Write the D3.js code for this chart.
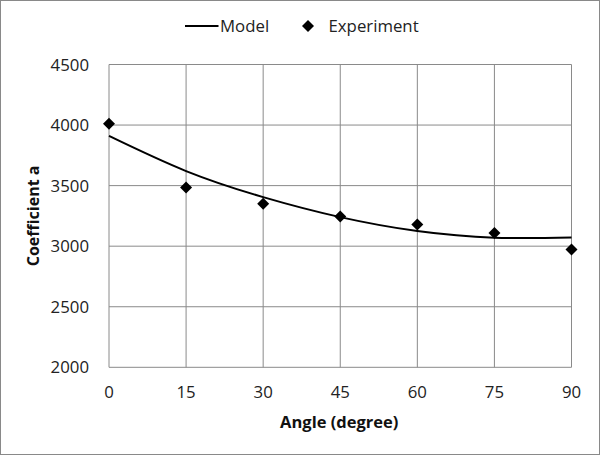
<!DOCTYPE html>
<html>
<head>
<meta charset="utf-8">
<script src="https://cdn.jsdelivr.net/npm/d3@7"></script>
<style>
  body { margin: 0; background: #fff; }
  text { font-family: "Open Sans", "Liberation Sans", sans-serif; }
</style>
</head>
<body>
<script>
// angles on the x axis
var angles = [0, 15, 30, 45, 60, 75, 90];
// measured coefficient a
var experiment = [4010, 3485, 3350, 3245, 3180, 3108, 2973];
// fitted model, read at each angle
var model = [3910, 3620, 3405, 3240, 3125, 3070, 3072];
var yTicks = [2000, 2500, 3000, 3500, 4000, 4500];

var width = 601, height = 456;
var plotLeft = 109, plotRight = 571.5, plotTop = 64.5, plotBottom = 367.3;

var svg = d3.select("body").append("svg")
            .attr("width", width)
            .attr("height", height);

// outer frame
svg.append("rect")
   .attr("x", 0.5).attr("y", 0.5)
   .attr("width", 599).attr("height", 454)
   .attr("fill", "#fff")
   .attr("stroke", "#898989");

var x = d3.scaleLinear().domain([0, 90]).range([plotLeft, plotRight]);
var y = d3.scaleLinear().domain([2000, 4500]).range([plotBottom, plotTop]);

// gridlines
svg.append("g")
   .selectAll("line")
   .data(yTicks)
   .enter()
   .append("line")
   .attr("x1", plotLeft).attr("x2", plotRight)
   .attr("y1", function (d) { return y(d); })
   .attr("y2", function (d) { return y(d); })
   .attr("stroke", "#8a8a8a")
   .attr("stroke-width", 1);

svg.append("g")
   .selectAll("line")
   .data(angles)
   .enter()
   .append("line")
   .attr("y1", plotTop).attr("y2", plotBottom)
   .attr("x1", function (d) { return x(d); })
   .attr("x2", function (d) { return x(d); })
   .attr("stroke", "#8a8a8a")
   .attr("stroke-width", 1);

// tick labels
svg.append("g")
   .selectAll("text")
   .data(yTicks)
   .enter()
   .append("text")
   .attr("x", 89)
   .attr("y", function (d) { return y(d) + 6; })
   .attr("text-anchor", "end")
   .attr("font-size", 16.8)
   .attr("fill", "#222")
   .text(function (d) { return d; });

svg.append("g")
   .selectAll("text")
   .data(angles)
   .enter()
   .append("text")
   .attr("x", function (d) { return x(d); })
   .attr("y", 398)
   .attr("text-anchor", "middle")
   .attr("font-size", 16.8)
   .attr("fill", "#222")
   .text(function (d) { return d; });

// axis titles
svg.append("text")
   .attr("x", (plotLeft + plotRight) / 2 - 1)
   .attr("y", 428)
   .attr("text-anchor", "middle")
   .attr("font-size", 16.5)
   .attr("font-weight", "bold")
   .attr("fill", "#111")
   .text("Angle (degree)");

svg.append("text")
   .attr("transform", "translate(39," + ((plotTop + plotBottom) / 2) + ") rotate(-90)")
   .attr("text-anchor", "middle")
   .attr("font-size", 16)
   .attr("font-weight", "bold")
   .attr("fill", "#111")
   .text("Coefficient a");

// model curve
var line = d3.line()
             .x(function (d, i) { return x(angles[i]); })
             .y(function (d) { return y(d); })
             .curve(d3.curveNatural);

svg.append("path")
   .datum(model)
   .attr("d", line)
   .attr("fill", "none")
   .attr("stroke", "#000")
   .attr("stroke-width", 2);

// experiment points
var diamond = d3.symbol().type(d3.symbolSquare).size(72);

svg.append("g")
   .selectAll("path")
   .data(experiment)
   .enter()
   .append("path")
   .attr("d", diamond)
   .attr("transform", function (d, i) {
     return "translate(" + x(angles[i]) + "," + y(d) + ") rotate(45)";
   })
   .attr("fill", "#000");

// legend
svg.append("line")
   .attr("x1", 185).attr("x2", 218.5)
   .attr("y1", 26).attr("y2", 26)
   .attr("stroke", "#000")
   .attr("stroke-width", 2);

svg.append("text")
   .attr("x", 220).attr("y", 32)
   .attr("font-size", 16.8)
   .attr("fill", "#222")
   .text("Model");

svg.append("path")
   .attr("d", diamond)
   .attr("transform", "translate(308,26) rotate(45)")
   .attr("fill", "#000");

svg.append("text")
   .attr("x", 328.5).attr("y", 32)
   .attr("font-size", 16.8)
   .attr("fill", "#222")
   .text("Experiment");
</script>
</body>
</html>
